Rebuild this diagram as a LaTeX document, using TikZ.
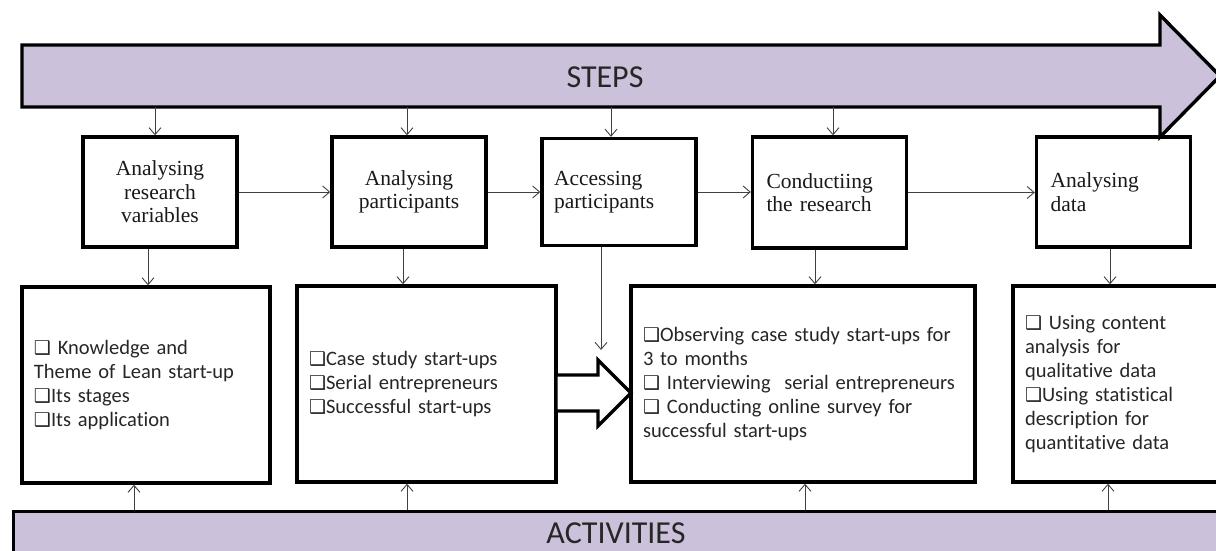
\documentclass[tikz,border=0pt]{standalone}
\usepackage{fontspec}
\setmainfont{Liberation Serif}
\newfontfamily\carlito[Ligatures=NoCommon]{Carlito}
\newfontfamily\dejavu{DejaVu Sans}
\usetikzlibrary{arrows.meta,calc}
\definecolor{lav}{HTML}{CCC1DA}
\newcommand{\cbx}{{\dejavu\fontsize{19}{19}\selectfont ❑}}
\begin{document}
\begin{tikzpicture}[x=1pt,y=-1pt,
  stepbox/.style={draw, line width=3.4pt, minimum width=154pt, minimum height=110pt, inner sep=0pt, font=\fontsize{21.5}{23.5}\selectfont, text=black!90},
  leftbox/.style={stepbox, text width=126pt, inner xsep=14pt, align=left},
  actbox/.style={draw, line width=3.4pt, minimum height=196pt, inner xsep=12pt, inner ysep=0pt, align=left, font=\carlito\fontsize{20.5}{24}\selectfont, text=black!85},
  conn/.style={draw=black!75, line width=0.9pt, -{Straight Barb[length=7pt,width=12pt]}},
  bigarrow/.style={draw=black, line width=3.4pt, line join=miter},
  bartext/.style={font=\carlito\fontsize{32}{32}\selectfont, text=black!85}]
\useasboundingbox (0,0) rectangle (1216,551);
\clip (0,0) rectangle (1216,551);

% STEPS arrow
\draw[bigarrow, fill=lav] (22,45) -- (1160,45) -- (1160,15) -- (1220,76) -- (1160,137) -- (1160,107) -- (22,107) -- cycle;
\node[minimum width=1138pt, minimum height=62pt, inner sep=0pt] (stepsbar) at (591,76) {};
\node[bartext] (stepslabel) at (605,77) {STEPS};

% ACTIVITIES bar
\node[draw, fill=lav, line width=3.4pt, minimum width=1228pt, minimum height=70pt, inner sep=0pt, anchor=north west] (actbar) at (12,510) {};
\node[bartext] (actlabel) at (616,533) {ACTIVITIES};

% step boxes
\node[stepbox, align=center] (s1) at (160,192) {Analysing\\research\\variables};
\node[stepbox, align=center] (s2) at (409,192) {Analysing\\participants};
\node[leftbox, minimum height=107pt, text width=130pt, inner xsep=12pt] (s3) at (619,192) {Accessing\\participants};
\node[leftbox, minimum height=111pt] (s4) at (829.5,192.5) {Conductiing\\the research};
\node[leftbox] (s5) at (1113.5,192) {Analysing\\data};

% activity boxes
\node[actbox, text width=224pt] (a1) at (146,385) {\cbx\ Knowledge and\\Theme of Lean start-up\\\cbx Its stages\\\cbx Its application};
\node[actbox, text width=235pt] (a2) at (426.5,384) {\cbx Case study start-ups\\\cbx Serial entrepreneurs\\\cbx Successful start-ups};
\node[actbox, text width=320pt] (a3) at (803,384) {\mbox{\cbx Observing case study start-ups for}\\3 to months\\\mbox{\cbx\ Interviewing\ \ serial entrepreneurs}\\\mbox{\cbx\ Conducting online survey for}\\successful start-ups};
\node[actbox, text width=193pt] (a4) at (1121.5,384) {\cbx\ Using content\\analysis for\\qualitative data\\\cbx Using statistical\\description for\\quantitative data};

% hollow arrow
\draw[bigarrow, fill=white] (556,375) -- (598,375) -- (598,360) -- (631,393) -- (598,426) -- (598,411) -- (556,411) -- cycle;
\coordinate (hollowtop) at (601,350);

% connectors from STEPS
\draw[conn] ($(s1.north |- stepsbar.south)+(-5,0)$) -- ($(s1.north)+(-5,0)$);
\draw[conn] ($(s2.north |- stepsbar.south)+(-2,0)$) -- ($(s2.north)+(-2,0)$);
\draw[conn] ($(s3.north |- stepsbar.south)+(-8,0)$) -- ($(s3.north)+(-8,0)$);
\draw[conn] ($(s4.north |- stepsbar.south)+(3.5,0)$) -- ($(s4.north)+(3.5,0)$);

% horizontal flow
\draw[conn] (s1.east) -- (s2.west);
\draw[conn] (s2.east) -- (s3.west |- s2.east);
\draw[conn] (s3.east) -- (s4.west |- s3.east);
\draw[conn] (s4.east) -- (s5.west |- s4.east);

% steps to activities
\draw[conn] ($(s1.south)+(-12,0)$) -- ($(s1.south |- a1.north)+(-12,0)$);
\draw[conn] ($(s2.south)+(-6,0)$) -- ($(s2.south |- a2.north)+(-6,0)$);
\draw[conn] ($(s3.south)+(-18,0)$) -- (hollowtop);
\draw[conn] ($(s4.south)+(-14.5,0)$) -- ($(s4.south |- a3.north)+(-14.5,0)$);
\draw[conn] ($(s5.south)+(-3.5,0)$) -- ($(s5.south |- a4.north)+(-3.5,0)$);

% activities bar up
\draw[conn] ($(a1.south |- actbar.north)+(-12,0)$) -- ($(a1.south)+(-12,0)$);
\draw[conn] ($(a2.south |- actbar.north)+(-19.5,0)$) -- ($(a2.south)+(-19.5,0)$);
\draw[conn] ($(a3.south |- actbar.north)+(2,0)$) -- ($(a3.south)+(2,0)$);
\draw[conn] ($(a4.south |- actbar.north)+(-13.5,0)$) -- ($(a4.south)+(-13.5,0)$);
\end{tikzpicture}
\end{document}
